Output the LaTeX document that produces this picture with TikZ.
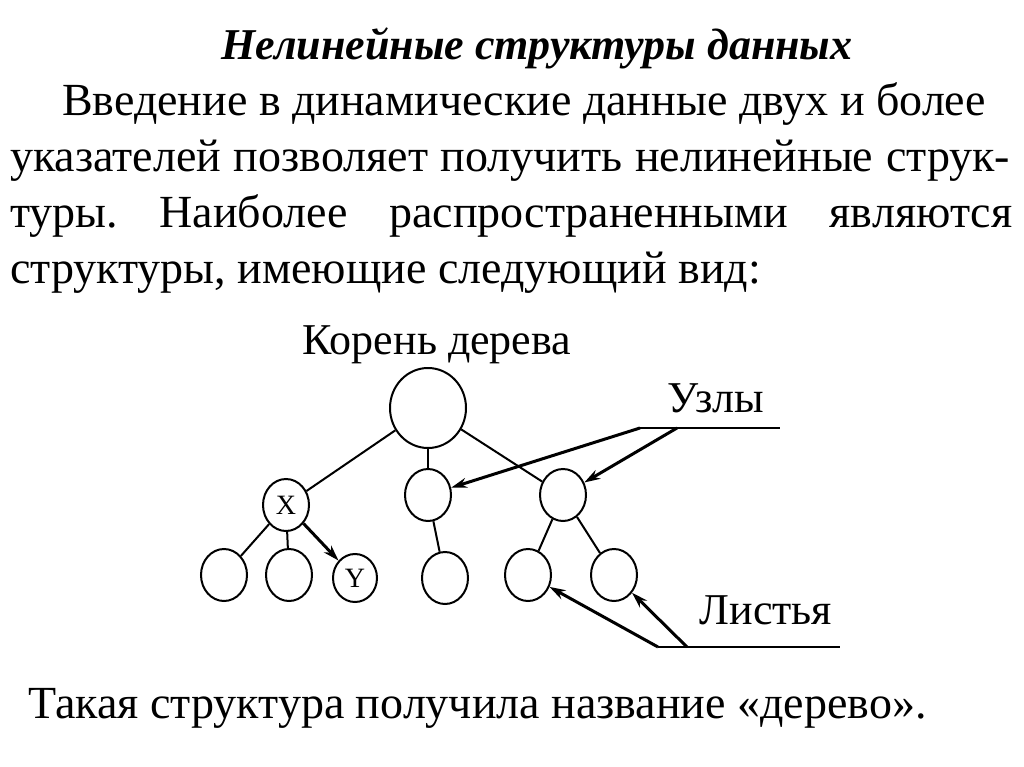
\documentclass[tikz,border=0pt]{standalone}
\usepackage{fontspec}
\setmainfont{Liberation Serif}
\usetikzlibrary{arrows.meta,shapes.geometric}
\begin{document}
\frenchspacing
\begin{tikzpicture}[x=1pt,y=-1pt,
  nd/.style={draw,line width=2pt,ellipse,minimum width=46pt,minimum height=52pt,inner sep=0pt},
  ed/.style={line width=2pt},
  ar/.style={line width=3pt,-{Stealth[length=16pt,width=10pt]}},
  lab/.style={font=\fontsize{44}{46}\selectfont},
  body/.style={font=\fontsize{46}{48}\selectfont,anchor=base west,inner sep=0pt}]
\useasboundingbox (0,0) rectangle (1024,767);
\node[font=\fontsize{44}{46}\selectfont\bfseries\itshape] (t) at (537,48) {Нелинейные структуры данных};
\node[body] (l1) at (62,116) {Введение в динамические данные двух и более};
\node[body] (l2) at (10,172) {\makebox[1000pt][s]{указателей позволяет получить нелинейные струк-}};
\node[body] (l3) at (10,228) {\makebox[1002pt][s]{туры. Наиболее распространенными являются}};
\node[body] (l4) at (10,283) {структуры, имеющие следующий вид:};
\node[body] (l5) at (28,718) {Такая структура получила название «дерево».};
\node[lab] (kr) at (437,345) {Корень дерева};
\node[lab] (uz) at (716,398) {Узлы};
\node[lab] (ls) at (766,610) {Листья};
\node[nd,minimum width=76pt,minimum height=80pt] (r) at (428,408) {};
\node[nd,font=\fontsize{28}{30}\selectfont] (x) at (286,505) {X};
\node[nd] (m) at (428,495) {};
\node[nd] (n) at (563,495) {};
\node[nd] (a1) at (224,575) {};
\node[nd] (a2) at (289,575) {};
\node[nd,minimum width=44pt,minimum height=48pt,font=\fontsize{28}{30}\selectfont] (y) at (355,578) {Y};
\node[nd] (a4) at (445,578) {};
\node[nd] (a5) at (528,575) {};
\node[nd] (a6) at (614,575) {};
\draw[ed] (r) -- (x); \draw[ed] (r) -- (m); \draw[ed] (r) -- (n);
\draw[ed] (x) -- (a1); \draw[ed] (x) -- (a2); \draw[ar] (x) -- (y);
\draw[ed] (m) -- (a4); \draw[ed] (n) -- (a5); \draw[ed] (n) -- (a6);
\coordinate (u1) at (640,428); \coordinate (u2) at (677,428); \coordinate (u3) at (780,428);
\coordinate (s1) at (658,647); \coordinate (s2) at (687,647); \coordinate (s3) at (840,647);
\draw[ed] (u1) -- (u3); \draw[ed] (s1) -- (s3);
\draw[ar] (u1) -- (m); \draw[ar] (u2) -- (n);
\draw[ar] (s1) -- (a5); \draw[ar] (s2) -- (a6);
\end{tikzpicture}
\end{document}
